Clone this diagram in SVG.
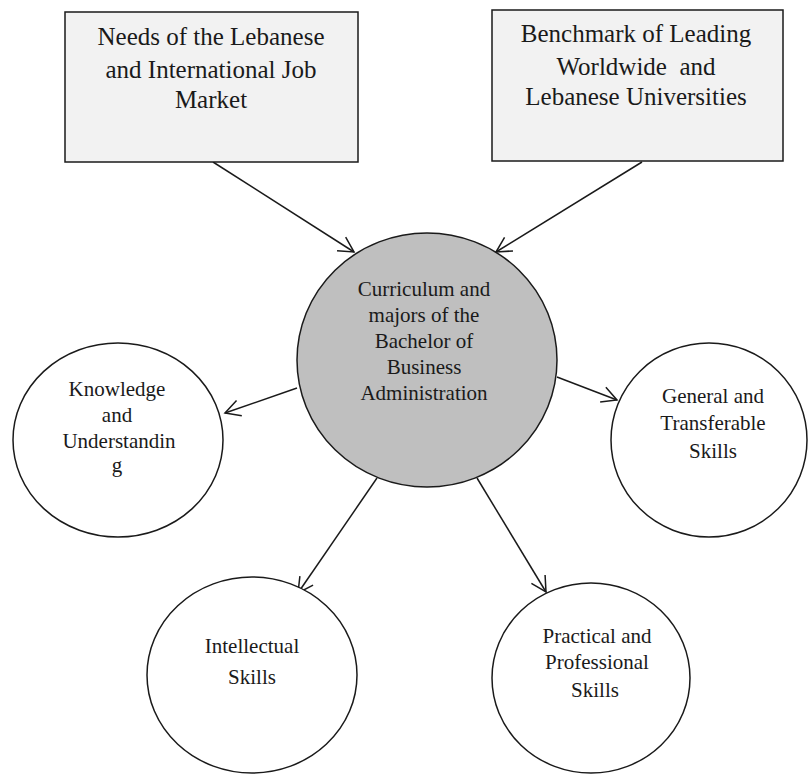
<svg xmlns="http://www.w3.org/2000/svg" width="808" height="774" viewBox="0 0 808 774">
<defs>
<style>
.box{fill:#f2f2f2;stroke:#1a1a1a;stroke-width:1.5}
.node{fill:#ffffff;stroke:#1a1a1a;stroke-width:1.5}
.center{fill:#bfbfbf;stroke:#1a1a1a;stroke-width:1.5}
.bt{font-family:"Liberation Serif","Times New Roman",serif;font-size:25px;fill:#1a1a1a;text-anchor:middle}
.ct{font-family:"Liberation Serif","Times New Roman",serif;font-size:21px;fill:#1a1a1a;text-anchor:middle}
.edge{stroke:#1a1a1a;stroke-width:1.5;fill:none}
</style>
<marker id="arr" markerUnits="userSpaceOnUse" markerWidth="20" markerHeight="20" viewBox="0 0 20 20" refX="18" refY="10" orient="auto">
<path d="M3,2 L18,10 L3,18" fill="none" stroke="#1a1a1a" stroke-width="1.5"/>
</marker>
</defs>
<rect width="808" height="774" fill="#ffffff"/>

<g id="connectors">
<line class="edge" x1="213" y1="162" x2="354" y2="252" marker-end="url(#arr)"/>
<line class="edge" x1="642" y1="162" x2="496" y2="252" marker-end="url(#arr)"/>
<line class="edge" x1="297" y1="388" x2="225" y2="413" marker-end="url(#arr)"/>
<line class="edge" x1="557" y1="377" x2="617" y2="400" marker-end="url(#arr)"/>
<line class="edge" x1="377" y1="478" x2="298" y2="593" marker-end="url(#arr)"/>
<line class="edge" x1="477" y1="478" x2="546" y2="592" marker-end="url(#arr)"/>
</g>

<g id="needs">
<rect class="box" x="65" y="12" width="293" height="150"/>
<text class="bt" x="211" y="45">Needs of the Lebanese</text>
<text class="bt" x="211" y="78">and International Job</text>
<text class="bt" x="211" y="108">Market</text>
</g>

<g id="benchmark">
<rect class="box" x="492" y="10" width="291" height="151"/>
<text class="bt" x="636" y="42">Benchmark of Leading</text>
<text class="bt" x="636" y="75" style="white-space:pre">Worldwide  and</text>
<text class="bt" x="636" y="105">Lebanese Universities</text>
</g>

<g id="curriculum">
<ellipse class="center" cx="427" cy="360" rx="130" ry="127"/>
<text class="ct" x="424" y="296">Curriculum and</text>
<text class="ct" x="424" y="322">majors of the</text>
<text class="ct" x="424" y="348">Bachelor of</text>
<text class="ct" x="424" y="374">Business</text>
<text class="ct" x="424" y="400">Administration</text>
</g>

<g id="knowledge">
<ellipse class="node" cx="118" cy="440" rx="105" ry="97"/>
<text class="ct" x="117" y="396">Knowledge</text>
<text class="ct" x="117" y="422">and</text>
<text class="ct" x="119" y="448">Understandin</text>
<text class="ct" x="117" y="472">g</text>
</g>

<g id="general">
<ellipse class="node" cx="709" cy="440" rx="98" ry="97"/>
<text class="ct" x="713" y="403">General and</text>
<text class="ct" x="713" y="430">Transferable</text>
<text class="ct" x="713" y="458">Skills</text>
</g>

<g id="intellectual">
<ellipse class="node" cx="252" cy="675" rx="105" ry="98"/>
<text class="ct" x="252" y="653">Intellectual</text>
<text class="ct" x="252" y="684">Skills</text>
</g>

<g id="practical">
<ellipse class="node" cx="591" cy="678" rx="99" ry="95"/>
<text class="ct" x="597" y="643">Practical and</text>
<text class="ct" x="597" y="669">Professional</text>
<text class="ct" x="595" y="697">Skills</text>
</g>
</svg>
